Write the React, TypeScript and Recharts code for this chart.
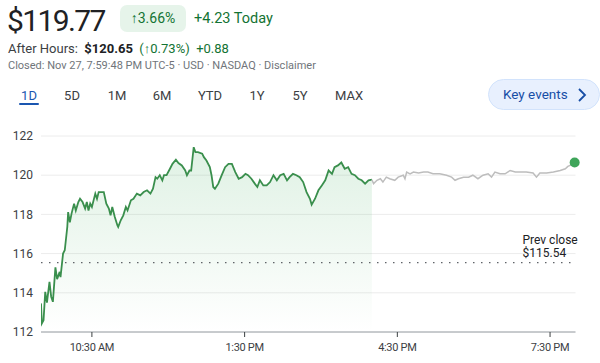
import React from 'react';
import {
  ComposedChart,
  Area,
  Line,
  XAxis,
  YAxis,
  CartesianGrid,
  ReferenceLine,
  ReferenceDot,
} from 'recharts';

// minutes since 9:30 AM
const sessionMinutes = [
  0, 1, 3, 5, 7, 10, 12, 14, 17, 19, 22, 23, 26, 28, 31, 32, 34, 36, 39, 41, 44, 46, 49, 52, 54, 56, 58, 60,
  64, 66, 68, 72, 74, 77, 80, 82, 84, 87, 90, 91, 94, 97, 100, 102, 106, 109, 113, 117, 121, 125, 129, 132,
  135, 137, 140, 143, 145, 148, 152, 155, 159, 162, 166, 170, 172, 175, 177, 180, 182, 185, 190, 192, 195,
  199, 201, 203, 205, 209, 213, 217, 221, 225, 229, 233, 237, 241, 244, 248, 252, 255, 258, 262, 266, 270,
  274, 278, 282, 286, 290, 293, 297, 301, 305, 309, 313, 317, 319, 323, 327, 331, 335, 339, 343, 346, 350,
  354, 358, 362, 366, 370, 374, 378, 382, 386, 390,
];
const sessionPrices = [
  113.46, 112.44, 112.6, 114.05, 113.5, 114.56, 113.8, 113.54, 115.3, 114.7, 115.07, 114.8, 116.0, 116.17,
  117.36, 118.12, 117.6, 118.04, 118.55, 118.2, 118.63, 118.8, 118.63, 118.3, 118.63, 118.2, 118.55, 118.38,
  119.06, 118.8, 119.14, 119.14, 119.14, 118.55, 118.3, 117.95, 118.38, 117.87, 117.45, 117.36, 117.7,
  117.95, 118.38, 118.2, 118.72, 118.8, 119.06, 118.97, 119.14, 119.23, 119.06, 119.31, 119.9, 119.82,
  120.0, 119.74, 120.0, 120.0, 120.33, 120.58, 120.79, 120.62, 120.5, 120.24, 120.0, 120.24, 120.24, 121.43,
  121.18, 121.18, 121.1, 120.92, 120.75, 120.41, 120.0, 119.4, 119.31, 119.57, 120.0, 120.41, 120.58,
  120.58, 120.16, 119.82, 119.9, 120.07, 120.0, 119.82, 119.57, 119.4, 119.74, 119.48, 119.48, 119.65,
  120.0, 119.74, 120.0, 120.07, 119.74, 119.9, 120.07, 120.0, 119.9, 119.65, 119.14, 118.8, 118.5, 118.8,
  119.23, 119.48, 119.74, 120.24, 120.07, 120.41, 120.5, 120.65, 120.33, 120.41, 120.07, 120.0, 119.82,
  119.74, 119.57, 119.74, 119.77,
];
const afterMinutes = [
  390, 392, 396, 400, 403, 407, 411, 417, 421, 427, 429, 431, 435, 439, 445, 451, 456, 462, 470, 478, 484,
  488, 492, 498, 504, 509, 515, 521, 527, 531, 535, 541, 547, 553, 559, 564, 572, 580, 584, 588, 596, 604,
  612, 618, 621, 625, 629,
];
const afterPrices = [
  119.77, 119.57, 119.74, 119.82, 119.65, 119.9, 119.82, 119.74, 119.9, 120.0, 119.82, 120.16, 120.07,
  120.16, 120.11, 120.16, 120.16, 120.07, 120.07, 120.0, 119.9, 119.74, 119.82, 119.9, 119.9, 120.0, 119.82,
  120.0, 120.07, 119.9, 120.16, 120.07, 120.07, 120.24, 120.16, 120.16, 120.16, 120.11, 119.9, 120.11,
  120.11, 120.16, 120.24, 120.33, 120.45, 120.53, 120.65,
];
const yTicks = [112, 114, 116, 118, 120, 122];
const xTicks = [60, 240, 420, 600];
const xTickLabels = ['10:30 AM', '1:30 PM', '4:30 PM', '7:30 PM'];
const prevClose = 115.54;
const ranges = ['1D', '5D', '1M', '6M', 'YTD', '1Y', '5Y', 'MAX'];
const rangeCenters = [29, 72, 117, 162, 210, 257, 300, 349];

const chartData = [
  ...sessionMinutes.map((t, i) => ({ t, price: sessionPrices[i] })),
  ...afterMinutes.map((t, i) => ({ t, after: afterPrices[i] })),
];

const FONT = 'Roboto, "Noto Sans", Arial, sans-serif';

const PrevCloseLabel = (props: any) => {
  const vb = props.viewBox || {};
  const left = vb.x + vb.width - 53;
  return (
    <g>
      <text x={left} y={vb.y - 23} textAnchor="start" fontSize={12} fill="#202124" fontFamily={FONT} dominantBaseline="central">
        Prev close
      </text>
      <text x={left} y={vb.y - 10} textAnchor="start" fontSize={12} fill="#202124" fontFamily={FONT} dominantBaseline="central">
        ${prevClose.toFixed(2)}
      </text>
    </g>
  );
};

export default function App() {
  return (
    <div
      style={{
        position: 'absolute',
        left: 0,
        top: 0,
        width: 600,
        height: 363,
        background: '#fff',
        fontFamily: FONT,
        overflow: 'hidden',
      }}
    >
      <div style={{ position: 'absolute', left: 7, top: 1, fontSize: 30, letterSpacing: -1.6, color: '#202124', lineHeight: '40px' }}>
        $119.77
      </div>
      <div
        style={{
          position: 'absolute',
          left: 120,
          top: 5,
          width: 66,
          height: 27,
          background: '#e6f4ea',
          borderRadius: 7,
          color: '#137333',
          fontSize: 14,
          lineHeight: '27px',
          textAlign: 'center',
        }}
      >
        ↑3.66%
      </div>
      <div style={{ position: 'absolute', left: 194, top: 5, fontSize: 14.5, color: '#137333', lineHeight: '27px' }}>
        +4.23 Today
      </div>
      <div style={{ position: 'absolute', left: 8, top: 40, fontSize: 13, color: '#3c4043', lineHeight: '18px', whiteSpace: 'nowrap' }}>
        After Hours:&nbsp; <b style={{ color: '#202124' }}>$120.65</b>&nbsp;{' '}
        <span style={{ color: '#137333' }}>(↑0.73%)&nbsp; +0.88</span>
      </div>
      <div style={{ position: 'absolute', left: 8, top: 58, fontSize: 11, color: '#70757a', lineHeight: '16px', whiteSpace: 'nowrap' }}>
        Closed: Nov 27, 7:59:48 PM UTC-5 · USD · NASDAQ · Disclaimer
      </div>
      {ranges.map((r, i) => (
        <div
          key={r}
          style={{
            position: 'absolute',
            left: rangeCenters[i] - 25,
            width: 50,
            top: 87,
            textAlign: 'center',
            fontSize: 13,
            lineHeight: '18px',
            color: i === 0 ? '#1a56b0' : '#3c4043',
          }}
        >
          {r}
        </div>
      ))}
      <div style={{ position: 'absolute', left: 19, top: 103, width: 20, height: 2, borderRadius: 1, background: '#1a56b0' }} />
      <div
        style={{
          position: 'absolute',
          left: 488,
          top: 79,
          width: 112,
          height: 31,
          boxSizing: 'border-box',
          background: '#e8f0fe',
          border: '1px solid #d2e3fc',
          borderRadius: 16,
          color: '#174ea6',
          fontSize: 13.5,
          lineHeight: '29px',
          paddingLeft: 14,
          whiteSpace: 'nowrap',
        }}
      >
        Key events
        <svg width="10" height="14" viewBox="0 0 10 14" style={{ position: 'absolute', left: 88, top: 8 }}>
          <path d="M2 1 L8 7 L2 13" stroke="#174ea6" strokeWidth="1.8" fill="none" />
        </svg>
      </div>
      <div style={{ position: 'absolute', left: 0, top: 120 }}>
        <ComposedChart width={600} height={243} data={chartData} margin={{ top: 16, right: 24.5, bottom: 1, left: 0 }}>
          <defs>
            <linearGradient id="greenFill" x1="0" y1="0" x2="0" y2="1">
              <stop offset="0%" stopColor="#34a853" stopOpacity={0.26} />
              <stop offset="100%" stopColor="#34a853" stopOpacity={0.0} />
            </linearGradient>
          </defs>
          <CartesianGrid vertical={false} stroke="#ececec" />
          <XAxis
            dataKey="t"
            type="number"
            domain={[0, 630]}
            ticks={xTicks}
            tickFormatter={(v: number) => xTickLabels[xTicks.indexOf(v)]}
            axisLine={{ stroke: '#9aa0a6' }}
            tickLine={{ stroke: '#3c4043' }}
            tickSize={5}
            tickMargin={6}
            height={30}
            tick={{ fontSize: 11, fill: '#3c4043', fontFamily: FONT, letterSpacing: -0.3 }}
            allowDataOverflow
          />
          <YAxis
            type="number"
            domain={[112, 122]}
            ticks={yTicks}
            width={41}
            axisLine={false}
            tickLine={false}
            tick={{ fontSize: 12, fill: '#3c4043', fontFamily: FONT }}
          />
          <ReferenceLine
            y={prevClose}
            stroke="#5f6368"
            strokeDasharray="1.5 6.5"
            strokeWidth={1.3}
            label={<PrevCloseLabel />}
          />
          <Area
            type="linear"
            dataKey="price"
            stroke="#3a8f4d"
            strokeWidth={1.8}
            fill="url(#greenFill)"
            isAnimationActive={false}
            dot={false}
            activeDot={false}
          />
          <Line
            type="linear"
            dataKey="after"
            stroke="#bdbdbd"
            strokeWidth={1.5}
            dot={false}
            activeDot={false}
            isAnimationActive={false}
          />
          <ReferenceDot
            x={afterMinutes[afterMinutes.length - 1]}
            y={afterPrices[afterPrices.length - 1]}
            r={5}
            fill="#3fa55a"
            stroke="none"
          />
        </ComposedChart>
      </div>
    </div>
  );
}
